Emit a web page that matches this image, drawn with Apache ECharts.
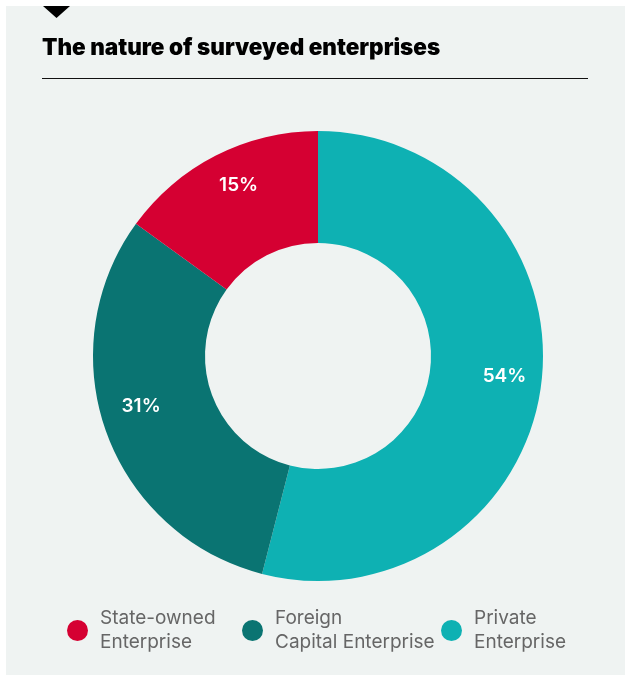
<!DOCTYPE html>
<html>
<head>
<meta charset="utf-8">
<script src="https://cdn.jsdelivr.net/npm/echarts@6/dist/echarts.min.js"></script>
<style>
  html, body { margin: 0; padding: 0; background: #ffffff; }
  #chart { width: 625px; height: 675px; }
</style>
</head>
<body>
<div id="chart"></div>
<script>
// Enterprise ownership breakdown
const categories = ['Private\nEnterprise', 'Foreign\nCapital Enterprise', 'State-owned\nEnterprise'];
const shares = [54, 31, 15];
const colors = ['#0eb1b3', '#0a7472', '#d50032'];
const legendOrder = [2, 1, 0];
const legendLeft = [67, 242, 441];
// small nudges so each percentage sits comfortably inside its slice
const labelNudge = [[0, -3], [0, -13], [6, -3]];

const pieData = categories.map((name, i) => ({
  name: name,
  value: shares[i],
  itemStyle: { color: colors[i] }
}));

const chart = echarts.init(document.getElementById('chart'), null, { renderer: 'canvas' });

const legends = legendOrder.map((idx, k) => ({
  data: [categories[idx]],
  left: legendLeft[k],
  top: 607,
  padding: 0,
  orient: 'horizontal',
  icon: 'circle',
  itemWidth: 21,
  itemHeight: 21,
  itemGap: 0,
  selectedMode: false,
  textStyle: {
    color: '#666666',
    fontFamily: 'Inter',
    fontSize: 19,
    lineHeight: 23.5,
    padding: [0, 0, 0, 7]
  }
}));

chart.setOption({
  animation: false,
  backgroundColor: 'transparent',
  graphic: [
    { type: 'rect', shape: { x: 6, y: 6, width: 619, height: 669 }, style: { fill: '#eff3f2' }, z: -10 },
    { type: 'polygon', shape: { points: [[43, 6], [70, 6], [56.5, 18]] }, style: { fill: '#000' } },
    { type: 'line', shape: { x1: 42, y1: 78.5, x2: 588, y2: 78.5 }, style: { stroke: '#111', lineWidth: 1 } }
  ],
  title: {
    text: 'The nature of surveyed enterprises',
    left: 37,
    top: 32,
    textStyle: { fontFamily: 'Inter', fontWeight: 900, fontSize: 22.5, color: '#000' }
  },
  legend: legends,
  series: [
    {
      type: 'pie',
      center: [318, 356],
      radius: [113, 225],
      startAngle: 90,
      clockwise: true,
      silent: true,
      label: { show: false },
      labelLine: { show: false },
      itemStyle: { borderWidth: 0 },
      data: pieData
    },
    {
      // label ring
      type: 'pie',
      center: [318, 356],
      radius: [145, 225],
      startAngle: 90,
      clockwise: true,
      silent: true,
      legendHoverLink: false,
      itemStyle: { color: 'transparent', borderWidth: 0 },
      label: {
        show: true,
        position: 'inside',
        formatter: p => p.value + '%',
        color: '#ffffff',
        fontFamily: 'Inter',
        fontWeight: 600,
        fontSize: 19
      },
      labelLine: { show: false },
      data: categories.map((name, i) => ({
        name: name,
        value: shares[i],
        label: { offset: labelNudge[i] }
      }))
    }
  ]
});
</script>
</body>
</html>
